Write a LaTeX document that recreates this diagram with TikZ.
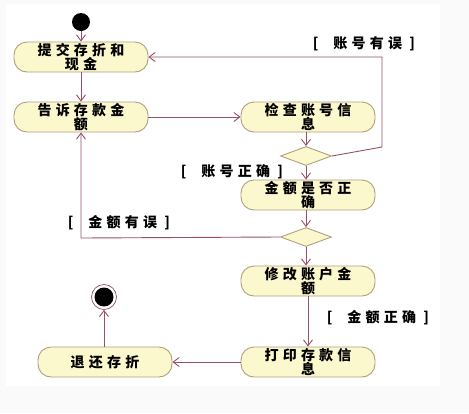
\documentclass[tikz,border=0pt]{standalone}
\usepackage{fontspec}
\newfontfamily\cjk{Noto Sans CJK SC}[LetterSpace=30]
\usetikzlibrary{arrows.meta,positioning,shapes.geometric}
\definecolor{fg}{RGB}{150,80,105}
\definecolor{edge}{RGB}{175,160,125}
\definecolor{fillc}{RGB}{252,248,205}
\definecolor{bgw}{RGB}{250,250,250}
\tikzset{
  every picture/.style={line width=0.9pt, >={Straight Barb[length=6pt,width=9pt]}},
  every node/.style={font=\cjk\bfseries\fontsize{14pt}{14pt}\selectfont},
  % Aktivitäten
  act/.style={draw=edge, fill=fillc, rounded corners=13pt, minimum width=134pt,
    minimum height=30pt, inner sep=0pt, align=center, text width=130pt},
  dec/.style={diamond, draw=edge, fill=fillc, minimum width=51pt, minimum height=19pt,
    inner sep=0pt, aspect=2.7},
  flow/.style={fg, ->},
  guard/.style={inner sep=0pt},
}
\begin{document}
\begin{tikzpicture}[x=1pt, y=-1pt]
  \fill[bgw] (0,0) rectangle (469,413);
  \fill[white] (6,4) rectangle (440,386);
  \useasboundingbox (0,0) rectangle (469,413);
  % Start und Ende
  \node[circle, fill=black, minimum size=18pt, inner sep=0pt] (start) at (81,22) {};
  \node[circle, draw=fg, line width=0.7pt, minimum size=25pt, inner sep=0pt] (stop) at (104,297) {};
  \fill[black] (stop.center) circle (9.5pt);
  % Aktivitäten
  \node[act] (submit) at (81,57) {提交存折和\\现金};
  \node[act] (amount) at (81,117) {告诉存款金\\额};
  \node[act] (check) at (308,117) {检查账号信\\息};
  \node[dec] (dacc) at (306,156) {};
  \node[act] (verify) at (308,195) {金额是否正\\确};
  \node[dec] (damt) at (306,237) {};
  \node[act] (update) at (308,281) {修改账户金\\额};
  \node[act] (print) at (308,362) {打印存款信\\息};
  \node[act] (giveback) at (105,362) {退还存折};
  % Verzweigungsbedingungen
  \node[guard] (gaccno) at (364,44) {[\ \ 账号有误\ ]};
  \node[guard] (gaccok) at (232,172) {[\ \ 账号正确\ ]};
  \node[guard] (gamtno) at (119,223) {[\ \ 金额有误\ ]};
  \node[guard] (gamtok) at (378,318) {[\ \ 金额正确\ ]};
  \coordinate (c1) at (382,147);
  \coordinate (c2) at (382,57);
  \coordinate (c3) at (81,238);
  % Übergänge
  \draw[flow] (start) -- (submit);
  \draw[flow] (submit) -- (amount);
  \draw[flow] (amount) -- (check);
  \draw[flow] (check.south -| dacc) -- (dacc);
  \draw[flow] (dacc.east) -- (c1) -- (c2) -- (submit.east);
  \draw[flow] (dacc.south) -- (verify.north -| dacc);
  \draw[flow] (verify.south -| damt) -- (damt);
  \draw[flow] (damt.west) -- (c3) -- (amount.south);
  \draw[flow] (damt.south) -- (update.north -| damt);
  \draw[flow] (update) -- (print);
  \draw[flow] (print) -- (giveback);
  \draw[flow] (giveback.north -| stop) -- (stop);
\end{tikzpicture}
\end{document}
